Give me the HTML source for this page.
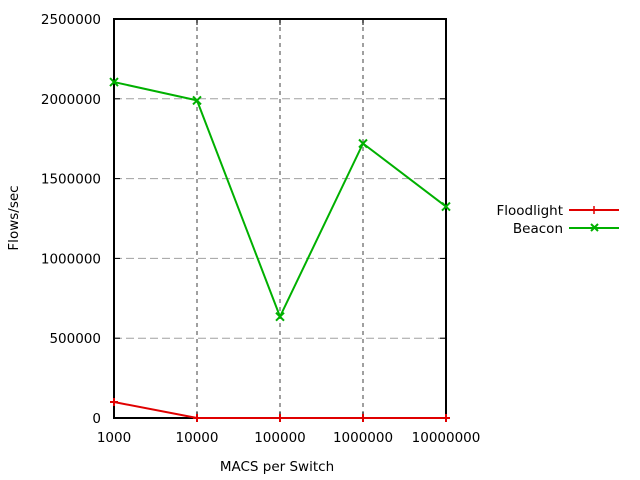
<!DOCTYPE html>
<html><head><meta charset="utf-8"><style>
body{margin:0;background:#fff}
svg{display:block;font-family:"DejaVu Sans","Liberation Sans",sans-serif;font-size:13.5px}
</style></head><body>
<svg id="chart" width="640" height="480">
<g id="grid"></g>
<g id="axes"></g>
<g id="series"></g>
<text x="277" y="471" text-anchor="middle">MACS per Switch</text>
<text transform="translate(18,218) rotate(-90)" text-anchor="middle">Flows/sec</text>
<g>
<g>
<text x="563" y="215" text-anchor="end">Floodlight</text>
<line x1="569" y1="210" x2="619" y2="210" stroke="#e00000" stroke-width="2"/>
<path d="M594,206v8M590,210h8" stroke="#e00000" stroke-width="1.5"/>
</g>
<g>
<text x="563" y="233" text-anchor="end">Beacon</text>
<line x1="569" y1="228" x2="619" y2="228" stroke="#00b000" stroke-width="2"/>
<path d="M591,224l7,7M598,224l-7,7" stroke="#00b000" stroke-width="2"/>
</g>
</g>
</svg>
<script>
const xCategories=[1000,10000,100000,1000000,10000000];
const xTickLabels=["1000","10000","100000","1000000","10000000"];
const yTicks=[0,500000,1000000,1500000,2000000,2500000];
const floodlightValues=[100000,0,0,0,0];
const beaconValues=[2105000,1990000,635000,1720000,1325000];
const NS="http://www.w3.org/2000/svg";
const L=114,R=446,T=19,B=418;
function xs(v){return L+(Math.log10(v)-3)/4*(R-L);}
function ys(v){return B-v/2500000*(B-T);}
function mk(tag,attrs,parent){const e=document.createElementNS(NS,tag);for(const k in attrs)e.setAttribute(k,attrs[k]);parent.appendChild(e);return e;}
const grid=document.getElementById('grid'),axes=document.getElementById('axes'),series=document.getElementById('series');
yTicks.forEach((t,i)=>{const y=ys(t);
 if(i>0&&i<yTicks.length-1){const g=mk('line',{x1:L,x2:R,y1:y,y2:y,stroke:'#a0a0a0','stroke-dasharray':'8,4'},grid);
 
 }
 const tx=mk('text',{x:L-13,y:y+5,'text-anchor':'end'},axes);tx.textContent=String(t);
 
 
 mk('line',{x1:L,x2:L+6,y1:y,y2:y,stroke:'#000'},axes);mk('line',{x1:R,x2:R-6,y1:y,y2:y,stroke:'#000'},axes);
});
xCategories.forEach((c,i)=>{const x=xs(c);
 if(i>0&&i<xCategories.length-1){const g=mk('line',{x1:x,x2:x,y1:T,y2:B,stroke:'#808080','stroke-dasharray':'4,4','stroke-width':1.5},grid);
 
 }
 const tx=mk('text',{x:x,y:B+24,'text-anchor':'middle'},axes);tx.textContent=xTickLabels[i];
 
 
 mk('line',{x1:x,x2:x,y1:B,y2:B-6,stroke:'#000'},axes);mk('line',{x1:x,x2:x,y1:T,y2:T+6,stroke:'#000'},axes);
});
const fr=mk('rect',{x:L,y:T,width:R-L,height:B-T,fill:'none',stroke:'#000','stroke-width':2},axes);


function draw(vals,color,name,marker){
 const pts=vals.map((v,i)=>xs(xCategories[i])+','+ys(v)).join(' ');
 const pl=mk('polyline',{points:pts,fill:'none',stroke:color,'stroke-width':2},series);
 
 
 vals.forEach((v,i)=>{const x=xs(xCategories[i]),y=ys(v);
  const d=marker==='x'?`M${x-4},${y-4}l8,8M${x+4},${y-4}l-8,8`:`M${x-4},${y}h8M${x},${y-4}v8`;
  const p=mk('path',{d:d,stroke:color,'stroke-width':2},series);
  
  
 });
}
draw(floodlightValues,'#e00000','floodlight','+');
draw(beaconValues,'#00b000','beacon','x');
</script>
</body></html>
